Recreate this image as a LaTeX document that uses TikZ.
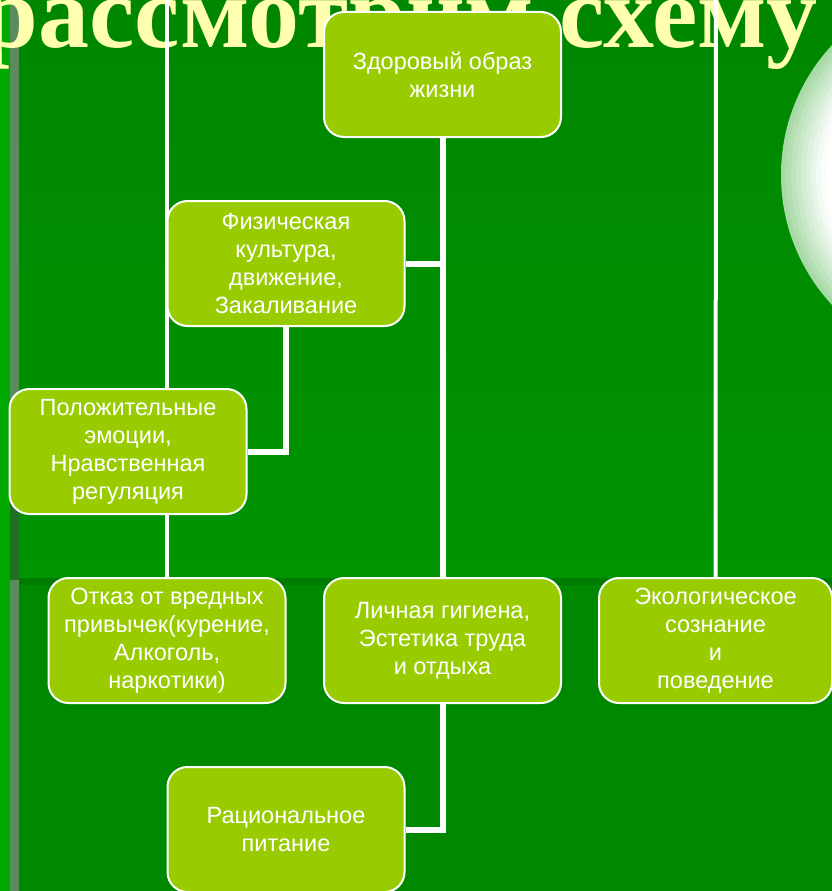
\documentclass[tikz,border=0pt]{standalone}
\usepackage{fontspec}
\setmainfont{Liberation Sans}
\newfontfamily\titlefont{Liberation Serif}
\pgfdeclarelayer{bg}
\pgfdeclarelayer{lines}
\pgfsetlayers{bg,lines,main}
\definecolor{bggreen}{HTML}{008800}
\definecolor{bgtop}{HTML}{008600}
\definecolor{bgmid}{HTML}{009400}
\definecolor{bandgreen}{HTML}{007A00}
\definecolor{leftgreen}{HTML}{00A800}
\definecolor{stripegray}{HTML}{5C8C5C}
\definecolor{stripedark}{HTML}{226E22}
\definecolor{boxlime}{HTML}{99CC00}
\definecolor{titleyellow}{HTML}{FFFFAF}
\definecolor{circgreen}{HTML}{A8DAA8}
\begin{document}
\begin{tikzpicture}[x=1pt,y=-1pt,
  box/.style={draw=white, line width=2pt, fill=boxlime, rounded corners=20pt,
    minimum width=237pt, minimum height=125pt, align=center, text=white,
    font=\fontsize{23.5}{28}\selectfont, inner sep=0pt},
  thicklink/.style={draw=white, line width=6pt},
  thinlink/.style={draw=white, line width=4pt}]
\useasboundingbox (0,0) rectangle (832,891);
\begin{pgfonlayer}{bg}
  \fill[bggreen] (0,0) rectangle (832,891);
  \shade[top color=bgtop, bottom color=bgmid] (0,0) rectangle (832,578);
  \fill[bandgreen] (0,578) rectangle (832,585);
  \fill[leftgreen] (0,0) rectangle (10,891);
  \fill[stripegray] (10,0) rectangle (19,891);
  \fill[stripedark] (10,490) rectangle (19,580);
  \foreach \i/\p in {0/100,1/88,2/75,3/62,4/50,5/38,6/26,7/14,8/5,9/0} {
    \fill[circgreen!\p!white] (972,175) circle[radius={(191-5*\i)*1pt}];
  }
  \node[anchor=base, font=\titlefont\bfseries\fontsize{102}{102}\selectfont,
    text=titleyellow, inner sep=0pt] (title) at (400,48) {рассмотрим схему};
\end{pgfonlayer}
\node[box] (zdor) at (442.5,74.5) {Здоровый образ\\жизни};
\node[box] (fiz) at (286,263.5) {Физическая\\культура,\\движение,\\Закаливание};
\node[box] (pol) at (128,451.5) {Положительные\\эмоции,\\Нравственная\\регуляция};
\node[box] (otk) at (167,640.5) {Отказ от вредных\\привычек(курение,\\Алкоголь,\\наркотики)};
\node[box] (lich) at (442.5,640.5) {Личная гигиена,\\Эстетика труда\\и отдыха};
\node[box, minimum width=233pt] (eko) at (715.5,640.5) {Экологическое\\сознание\\и\\поведение};
\node[box] (rac) at (286,829.5) {Рациональное\\питание};
\begin{pgfonlayer}{lines}
  \coordinate (top1) at (167,0);
  \coordinate (top2) at (716,0);
  \draw[thinlink] (top1) -- (otk.north);
  \draw[thinlink] (top2) -- (eko.north);
  \draw[thicklink] (zdor.south) -- (lich.north);
  \draw[thicklink] (fiz.east) -- (fiz.east -| zdor.south);
  \draw[thicklink] (fiz.south) |- (pol.east);
  \draw[thicklink] (lich.south) |- (rac.east);
\end{pgfonlayer}
\end{tikzpicture}
\end{document}
